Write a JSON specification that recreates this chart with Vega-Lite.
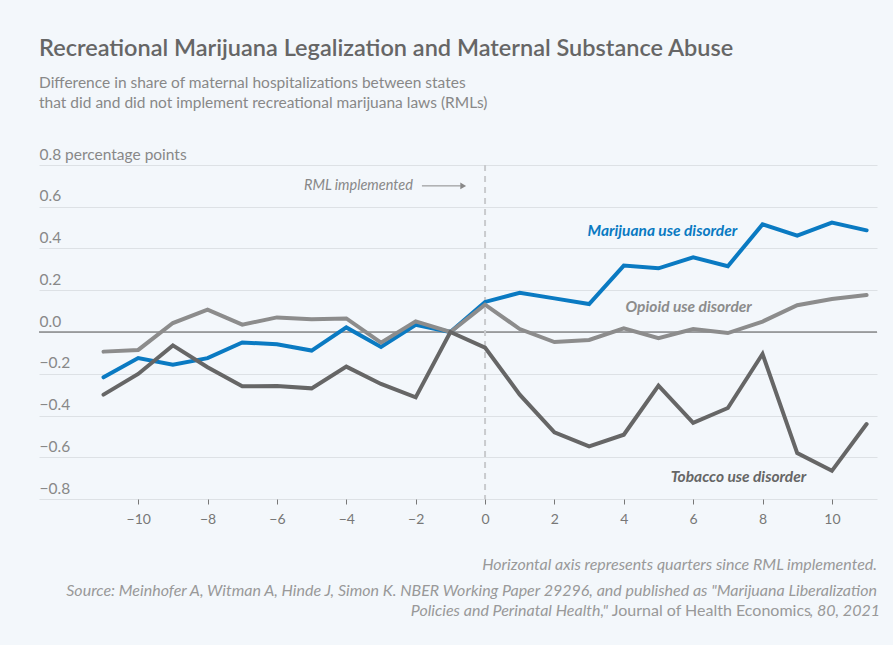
{
  "$schema": "https://vega.github.io/schema/vega-lite/v6.json",
  "width": 838,
  "height": 334,
  "autosize": {"type": "none"},
  "padding": {"left": 39, "top": 165, "right": 16, "bottom": 146},
  "background": "#f3f7fb",
  "config": {"view": {"stroke": null}, "font": "Lato"},
  "title": {
    "text": "Recreational Marijuana Legalization and Maternal Substance Abuse",
    "subtitle": ["Difference in share of maternal hospitalizations between states", "that did and did not implement recreational marijuana laws (RMLs)"],
    "anchor": "start",
    "frame": "group",
    "fontSize": 23.5,
    "fontWeight": 600,
    "color": "#666666",
    "subtitleFontSize": 15.5,
    "subtitleColor": "#888888",
    "subtitleLineHeight": 20,
    "subtitlePadding": 15,
    "offset": 36
  },
  "layer": [
    {
      "data": {"values": [{}]},
      "mark": {"type": "rule", "color": "#555555", "strokeWidth": 1},
      "encoding": {"y": {"datum": 0}}
    },
    {
      "data": {"values": [{}]},
      "mark": {"type": "rule", "color": "#c9cbce", "strokeWidth": 2, "strokeDash": [6, 5]},
      "encoding": {"x": {"datum": 0}}
    },
    {
      "data": {
        "values": [
          {"q": -11, "series": "Marijuana", "v": -0.217},
          {"q": -10, "series": "Marijuana", "v": -0.125},
          {"q": -9, "series": "Marijuana", "v": -0.157},
          {"q": -8, "series": "Marijuana", "v": -0.125},
          {"q": -7, "series": "Marijuana", "v": -0.05},
          {"q": -6, "series": "Marijuana", "v": -0.059},
          {"q": -5, "series": "Marijuana", "v": -0.089},
          {"q": -4, "series": "Marijuana", "v": 0.022},
          {"q": -3, "series": "Marijuana", "v": -0.072},
          {"q": -2, "series": "Marijuana", "v": 0.035},
          {"q": -1, "series": "Marijuana", "v": 0.0},
          {"q": 0, "series": "Marijuana", "v": 0.144},
          {"q": 1, "series": "Marijuana", "v": 0.188},
          {"q": 2, "series": "Marijuana", "v": 0.161},
          {"q": 3, "series": "Marijuana", "v": 0.134},
          {"q": 4, "series": "Marijuana", "v": 0.318},
          {"q": 5, "series": "Marijuana", "v": 0.305},
          {"q": 6, "series": "Marijuana", "v": 0.358},
          {"q": 7, "series": "Marijuana", "v": 0.315},
          {"q": 8, "series": "Marijuana", "v": 0.516},
          {"q": 9, "series": "Marijuana", "v": 0.462},
          {"q": 10, "series": "Marijuana", "v": 0.524},
          {"q": 11, "series": "Marijuana", "v": 0.487},
          {"q": -11, "series": "Opioid", "v": -0.094},
          {"q": -10, "series": "Opioid", "v": -0.086},
          {"q": -9, "series": "Opioid", "v": 0.043},
          {"q": -8, "series": "Opioid", "v": 0.107},
          {"q": -7, "series": "Opioid", "v": 0.035},
          {"q": -6, "series": "Opioid", "v": 0.07},
          {"q": -5, "series": "Opioid", "v": 0.061},
          {"q": -4, "series": "Opioid", "v": 0.065},
          {"q": -3, "series": "Opioid", "v": -0.051},
          {"q": -2, "series": "Opioid", "v": 0.051},
          {"q": -1, "series": "Opioid", "v": 0.0},
          {"q": 0, "series": "Opioid", "v": 0.131},
          {"q": 1, "series": "Opioid", "v": 0.014},
          {"q": 2, "series": "Opioid", "v": -0.048},
          {"q": 3, "series": "Opioid", "v": -0.038},
          {"q": 4, "series": "Opioid", "v": 0.018},
          {"q": 5, "series": "Opioid", "v": -0.03},
          {"q": 6, "series": "Opioid", "v": 0.014},
          {"q": 7, "series": "Opioid", "v": -0.005},
          {"q": 8, "series": "Opioid", "v": 0.05},
          {"q": 9, "series": "Opioid", "v": 0.128},
          {"q": 10, "series": "Opioid", "v": 0.158},
          {"q": 11, "series": "Opioid", "v": 0.177},
          {"q": -11, "series": "Tobacco", "v": -0.3},
          {"q": -10, "series": "Tobacco", "v": -0.201},
          {"q": -9, "series": "Tobacco", "v": -0.064},
          {"q": -8, "series": "Tobacco", "v": -0.169},
          {"q": -7, "series": "Tobacco", "v": -0.26},
          {"q": -6, "series": "Tobacco", "v": -0.259},
          {"q": -5, "series": "Tobacco", "v": -0.27},
          {"q": -4, "series": "Tobacco", "v": -0.166},
          {"q": -3, "series": "Tobacco", "v": -0.249},
          {"q": -2, "series": "Tobacco", "v": -0.313},
          {"q": -1, "series": "Tobacco", "v": 0.0},
          {"q": 0, "series": "Tobacco", "v": -0.075},
          {"q": 1, "series": "Tobacco", "v": -0.3},
          {"q": 2, "series": "Tobacco", "v": -0.481},
          {"q": 3, "series": "Tobacco", "v": -0.548},
          {"q": 4, "series": "Tobacco", "v": -0.492},
          {"q": 5, "series": "Tobacco", "v": -0.257},
          {"q": 6, "series": "Tobacco", "v": -0.435},
          {"q": 7, "series": "Tobacco", "v": -0.364},
          {"q": 8, "series": "Tobacco", "v": -0.105},
          {"q": 9, "series": "Tobacco", "v": -0.58},
          {"q": 10, "series": "Tobacco", "v": -0.665},
          {"q": 11, "series": "Tobacco", "v": -0.441}
        ]
      },
      "mark": {"type": "line", "strokeWidth": 4, "strokeCap": "round"},
      "encoding": {
        "x": {
          "field": "q",
          "type": "quantitative",
          "scale": {"domain": [-12.86, 11.3], "nice": false, "zero": false},
          "axis": {
            "values": [-10, -8, -6, -4, -2, 0, 2, 4, 6, 8, 10],
            "title": null,
            "domain": false,
            "grid": false,
            "ticks": true,
            "tickSize": 5,
            "tickColor": "#777777",
            "tickWidth": 1,
            "labelColor": "#777777",
            "labelFontSize": 14,
            "labelPadding": 8,
            "labelFlush": false,
            "format": "d"
          }
        },
        "y": {
          "field": "v",
          "type": "quantitative",
          "scale": {"domain": [-0.8, 0.8], "nice": false, "zero": false},
          "axis": {
            "values": [-0.8, -0.6, -0.4, -0.2, 0, 0.2, 0.4, 0.6, 0.8],
            "title": null,
            "domain": false,
            "ticks": false,
            "grid": true,
            "gridColor": "#dde1e5",
            "gridWidth": 1,
            "labelAlign": "left",
            "labelBaseline": "bottom",
            "labelPadding": 0,
            "labelOffset": -3,
            "labelColor": "#888888",
            "labelFontSize": 15.5,
            "labelOverlap": false,
            "labelFlush": false,
            "labelBound": false,
            "labelExpr": "datum.value == 0.8 ? '0.8 percentage points' : format(datum.value, '.1f')"
          }
        },
        "color": {
          "field": "series",
          "type": "nominal",
          "scale": {"domain": ["Opioid", "Tobacco", "Marijuana"], "range": ["#8c8c8c", "#666666", "#0a7ac2"]},
          "legend": null
        }
      }
    },
    {
      "data": {"values": [{}]},
      "mark": {"type": "rule", "color": "#888888", "strokeWidth": 1},
      "encoding": {"x": {"datum": -1.82}, "x2": {"datum": -0.7}, "y": {"datum": 0.7}}
    },
    {
      "data": {"values": [{}]},
      "mark": {"type": "point", "shape": "triangle-right", "filled": true, "color": "#888888", "size": 45, "opacity": 1},
      "encoding": {"x": {"datum": -0.63}, "y": {"datum": 0.7}}
    },
    {
      "data": {"values": [{}]},
      "mark": {"type": "text", "text": "RML implemented", "align": "right", "baseline": "middle", "fontStyle": "italic", "fontSize": 14.5, "color": "#888888"},
      "encoding": {"x": {"datum": -2.08}, "y": {"datum": 0.7}}
    },
    {
      "data": {"values": [{}]},
      "mark": {"type": "text", "text": "Marijuana use disorder", "align": "right", "baseline": "middle", "fontStyle": "italic", "fontWeight": "bold", "fontSize": 15.5, "color": "#0a7ac2"},
      "encoding": {"x": {"datum": 7.27}, "y": {"datum": 0.486}}
    },
    {
      "data": {"values": [{}]},
      "mark": {"type": "text", "text": "Opioid use disorder", "align": "right", "baseline": "middle", "fontStyle": "italic", "fontWeight": "bold", "fontSize": 15.5, "color": "#8c8c8c"},
      "encoding": {"x": {"datum": 7.69}, "y": {"datum": 0.118}}
    },
    {
      "data": {"values": [{}]},
      "mark": {"type": "text", "text": "Tobacco use disorder", "align": "right", "baseline": "middle", "fontStyle": "italic", "fontWeight": "bold", "fontSize": 15.5, "color": "#666666"},
      "encoding": {"x": {"datum": 9.26}, "y": {"datum": -0.694}}
    },
    {
      "data": {"values": [{}]},
      "mark": {"type": "text", "text": "Horizontal axis represents quarters since RML implemented.", "align": "right", "baseline": "middle", "fontStyle": "italic", "fontSize": 16, "color": "#999999"},
      "encoding": {"x": {"datum": 11.3}, "y": {"datum": -1.118}}
    },
    {
      "data": {"values": [{}]},
      "mark": {"type": "text", "text": "Source: Meinhofer A, Witman A, Hinde J, Simon K. NBER Working Paper 29296, and published as \"Marijuana Liberalization", "align": "right", "baseline": "top", "fontStyle": "italic", "fontSize": 16, "color": "#999999"},
      "encoding": {"x": {"datum": 11.3}, "y": {"datum": -1.2}}
    },
    {
      "data": {"values": [{}]},
      "mark": {"type": "text", "text": ", 80, 2021", "align": "right", "baseline": "middle", "fontStyle": "italic", "fontSize": 16, "color": "#999999", "dx": 3},
      "encoding": {"x": {"datum": 11.3}, "y": {"datum": -1.338}}
    },
    {
      "data": {"values": [{}]},
      "mark": {"type": "text", "text": "Journal of Health Economics", "align": "right", "baseline": "middle", "fontStyle": "normal", "fontSize": 16, "color": "#999999", "dx": -66},
      "encoding": {"x": {"datum": 11.3}, "y": {"datum": -1.338}}
    },
    {
      "data": {"values": [{}]},
      "mark": {"type": "text", "text": "Policies and Perinatal Health,\"", "align": "right", "baseline": "middle", "fontStyle": "italic", "fontSize": 16, "color": "#999999", "dx": -269},
      "encoding": {"x": {"datum": 11.3}, "y": {"datum": -1.338}}
    }
  ]
}
